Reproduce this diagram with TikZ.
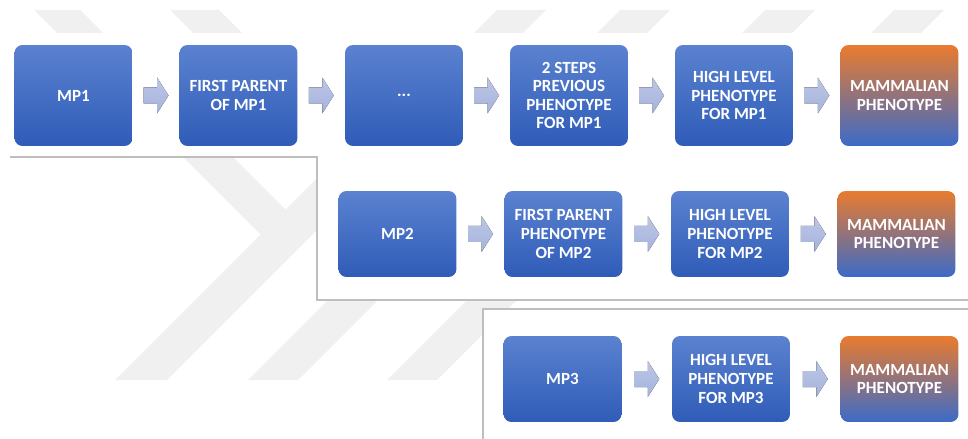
\documentclass[tikz,border=0pt]{standalone}
\usepackage{fontspec}
\setmainfont{Carlito}
\usetikzlibrary{calc}
\definecolor{boxtop}{HTML}{5B82D0}
\definecolor{boxbot}{HTML}{2F5CB8}
\definecolor{orangetop}{HTML}{E97B2E}
\definecolor{orangebot}{HTML}{3C6BC8}
\definecolor{arrowtop}{HTML}{BCC6E6}
\definecolor{arrowbot}{HTML}{A5B3DC}
\definecolor{wmark}{HTML}{F0F0F0}
\definecolor{frameline}{HTML}{BEBEBE}
\tikzset{
  stepbox/.style={rectangle, rounded corners=0.16cm, minimum width=2.36cm,
    inner sep=0pt, text=white, align=center,
    font=\bfseries\fontsize{9.7}{10.6}\selectfont,
    top color=boxtop, bottom color=boxbot},
  rowone/.style={minimum height=2.02cm},
  rowtwo/.style={minimum height=1.72cm},
  mamm/.style={top color=orangetop, bottom color=orangebot},
  blockarrow/.pic={\fill[top color=arrowtop, bottom color=arrowbot]
    (-12.5,-8) -- (1,-8) -- (1,-18) -- (12.5,0) -- (1,18) -- (1,8) -- (-12.5,8) -- cycle;},
  wm/.style={fill=wmark, draw=none},
  frame/.style={draw=frameline, line width=0.7pt},
}
\begin{document}
\begin{tikzpicture}[x=0.02cm, y=-0.02cm]
\useasboundingbox (0,0) rectangle (968,439);
% watermark
\fill[wm] (34,10) -- (80,10) -- (104,34) -- (58,34) -- cycle;
\fill[wm] (170,10) -- (219,10) -- (243,34) -- (194,34) -- cycle;
\fill[wm] (497,10) -- (546,10) -- (522,34) -- (473,34) -- cycle;
\fill[wm] (620,10) -- (670,10) -- (646,34) -- (596,34) -- cycle;
\fill[wm] (765,10) -- (815,10) -- (791,34) -- (741,34) -- cycle;
\fill[wm] (894,10) -- (944,10) -- (920,34) -- (870,34) -- cycle;
\fill[wm] (156,130) -- (206,130) -- (311.5,235.5) -- (260.5,234.5) -- cycle;
\fill[wm] (115,380) -- (167,380) -- (417,130) -- (365,130) -- cycle;
\fill[wm] (248,380) -- (298,380) -- (528,150) -- (478,150) -- cycle;
\fill[wm] (387,380) -- (437,380) -- (617,200) -- (567,200) -- cycle;
% framed panels
\fill[white] (10,33) rectangle (968,157);
\fill[white] (317,157) rectangle (968,300);
\fill[white] (483,309) rectangle (968,439);
\draw[frame] (10,157) -- (317,157) -- (317,300) -- (968,300);
\draw[frame] (483,439) -- (483,309) -- (968,309);
% row 1
\node[stepbox,rowone] (a1) at (73.5,95.5) {MP1};
\node[stepbox,rowone] (a2) at (238.5,95.5) {FIRST PARENT\\OF MP1};
\node[stepbox,rowone] (a3) at (404,95.5) {...};
\node[stepbox,rowone] (a4) at (569,95.5) {2 STEPS\\PREVIOUS\\PHENOTYPE\\FOR MP1};
\node[stepbox,rowone] (a5) at (734,95.5) {HIGH LEVEL\\PHENOTYPE\\FOR MP1};
\node[stepbox,rowone,mamm] (a6) at (899.5,95.5) {MAMMALIAN\\PHENOTYPE};
\foreach \p/\q in {a1/a2,a2/a3,a3/a4,a4/a5,a5/a6}
  \pic at ($(\p.east)!0.5!(\q.west)$) {blockarrow};
% row 2
\node[stepbox,rowtwo] (b1) at (397.5,234) {MP2};
\node[stepbox,rowtwo] (b2) at (563.5,234) {FIRST PARENT\\PHENOTYPE\\OF MP2};
\node[stepbox,rowtwo] (b3) at (730,234) {HIGH LEVEL\\PHENOTYPE\\FOR MP2};
\node[stepbox,rowtwo,mamm] (b4) at (896.5,234) {MAMMALIAN\\PHENOTYPE};
\foreach \p/\q in {b1/b2,b2/b3,b3/b4}
  \pic at ($(\p.east)!0.5!(\q.west)$) {blockarrow};
% row 3
\node[stepbox,rowtwo] (c1) at (562.5,379) {MP3};
\node[stepbox,rowtwo] (c2) at (731,379) {HIGH LEVEL\\PHENOTYPE\\FOR MP3};
\node[stepbox,rowtwo,mamm] (c3) at (899.5,379) {MAMMALIAN\\PHENOTYPE};
\foreach \p/\q in {c1/c2,c2/c3}
  \pic at ($(\p.east)!0.5!(\q.west)$) {blockarrow};
\end{tikzpicture}
\end{document}
